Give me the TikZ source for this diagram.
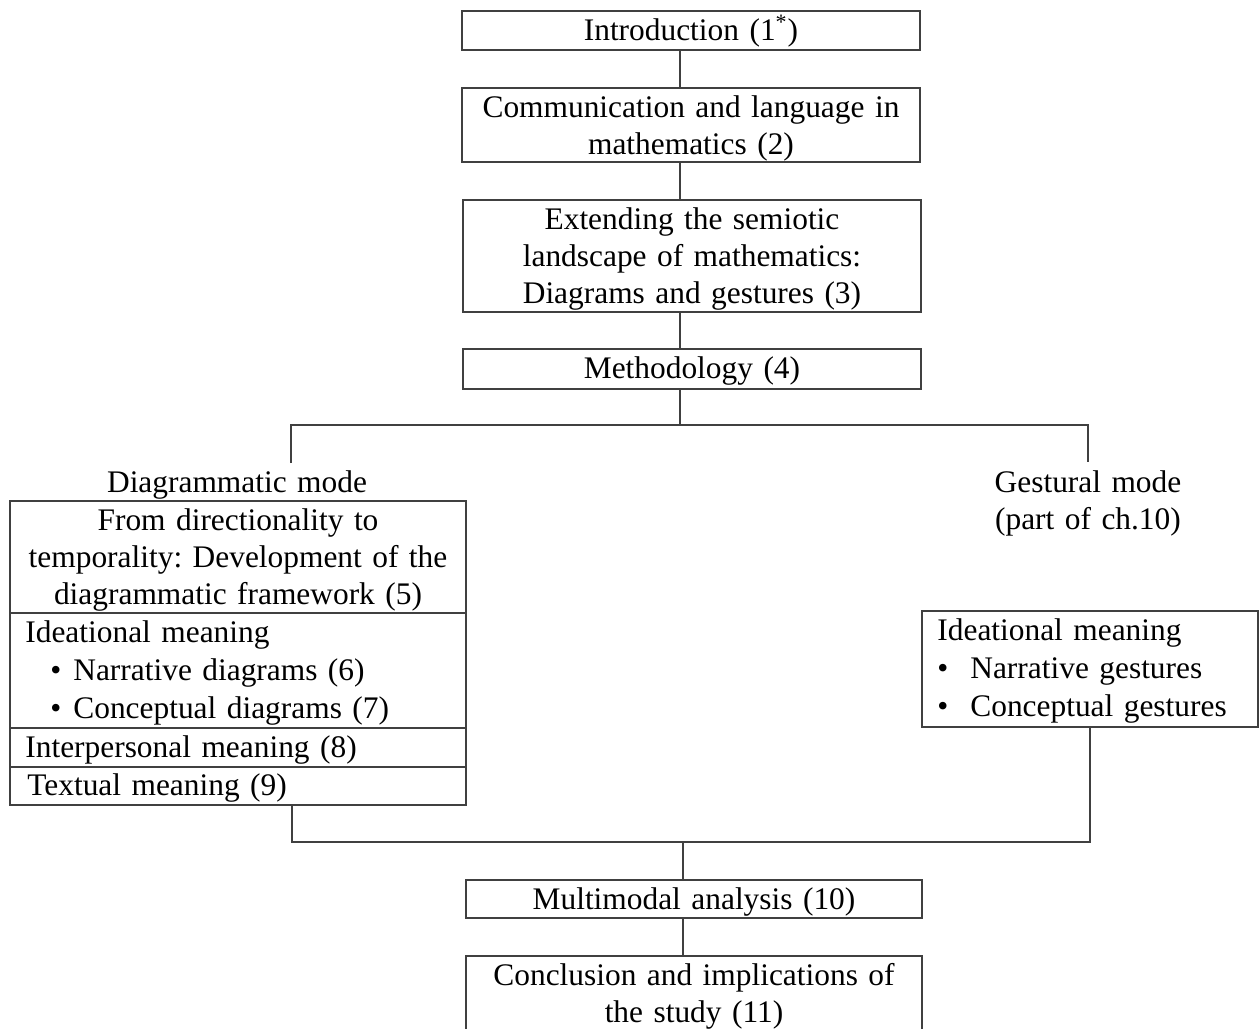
\documentclass[tikz,border=0pt]{standalone}
\usepackage{fontspec}
\setmainfont{Liberation Serif}
\newcommand\fs{\fontsize{15.7}{18.5}\selectfont\frenchspacing}
\newcommand\fsb{\fontsize{15.7}{19}\selectfont\frenchspacing}
\tikzset{
  box/.style={draw=black!75, line width=0.75pt, inner sep=0pt, rectangle},
  ln/.style={draw=black!75, line width=0.75pt},
  ctxt/.style={inner sep=0pt, anchor=base, align=center, text width=225pt, font=\fs},
  ltxt/.style={inner sep=0pt, anchor=base west, align=left, text width=205pt, font=\fsb},
}
\begin{document}
\begin{tikzpicture}[x=0.5pt, y=-0.5pt]
\path[use as bounding box] (0,0) rectangle (1260,1029);
\clip (0,0) rectangle (1260,1029);
% boxes
\node[box, minimum width=229pt, minimum height=19.5pt] (b1) at (691,30.5) {};
\node[box, minimum width=229pt, minimum height=37pt] (b2) at (691,125) {};
\node[box, minimum width=229pt, minimum height=56pt] (b3) at (692,256) {};
\node[box, minimum width=229pt, minimum height=20pt] (b4) at (692,369) {};
\node[box, minimum width=228pt, minimum height=56pt] (l5) at (238,557) {};
\node[box, minimum width=228pt, minimum height=57.5pt] (l67) at (238,670.5) {};
\node[box, minimum width=228pt, minimum height=19.5pt] (l8) at (238,747.5) {};
\node[box, minimum width=228pt, minimum height=19pt] (l9) at (238,786) {};
\node[box, minimum width=168pt, minimum height=58pt] (rb) at (1090,669) {};
\node[box, minimum width=228pt, minimum height=19pt] (mm) at (694,899) {};
\node[box, minimum width=228pt, minimum height=44.5pt] (cc) at (694,1000.5) {};
% texts
\node[ctxt] (t1) at (691,40) {Introduction (1\textsuperscript{*})};
\node[ctxt] (t2) at (691,117) {Communication and language in\\mathematics (2)};
\node[ctxt] (t3) at (692,229) {Extending the semiotic\\landscape of mathematics:\\Diagrams and gestures (3)};
\node[ctxt] (t4) at (692,378) {Methodology (4)};
\node[ctxt] (dm) at (237,492) {Diagrammatic mode};
\node[ctxt] (t5) at (238,530) {From directionality to\\temporality: Development of the\\diagrammatic framework (5)};
\node[ltxt] (t67) at (25,642) {Ideational meaning\\\hspace*{12.5pt}\textbullet\hspace{6pt}Narrative diagrams (6)\\\hspace*{12.5pt}\textbullet\hspace{6pt}Conceptual diagrams (7)};
\node[ltxt] (t8) at (25,757) {Interpersonal meaning (8)};
\node[ltxt] (t9) at (27,795) {Textual meaning (9)};
\node[ctxt] (gm) at (1088,492) {Gestural mode\\(part of ch.10)};
\node[ltxt] (rt) at (937,640) {Ideational meaning\\\textbullet\hspace{11pt}Narrative gestures\\\textbullet\hspace{11pt}Conceptual gestures};
\node[ctxt] (mmt) at (694,909) {Multimodal analysis (10)};
\node[ctxt] (cct) at (694,985) {Conclusion and implications of\\the study (11)};
% connectors
\coordinate (sp) at (680,0);
\coordinate (sq) at (683,0);
\coordinate (jL) at (291,425);
\coordinate (jR) at (1088,425);
\coordinate (eL) at (291,463);
\coordinate (eR) at (1088,462);
\coordinate (mL) at (292,842);
\coordinate (mR) at (1090,842);
\draw[ln] (b1.south -| sp) -- (b2.north -| sp);
\draw[ln] (b2.south -| sp) -- (b3.north -| sp);
\draw[ln] (b3.south -| sp) -- (b4.north -| sp);
\draw[ln] (b4.south -| sp) -- (sp |- jL);
\draw[ln] (eL) -- (jL) -- (jR) -- (eR);
\draw[ln] (l9.south -| mL) -- (mL) -- (mR) -- (rb.south -| mR);
\draw[ln] (sq |- mL) -- (mm.north -| sq);
\draw[ln] (mm.south -| sq) -- (cc.north -| sq);
\end{tikzpicture}
\end{document}
